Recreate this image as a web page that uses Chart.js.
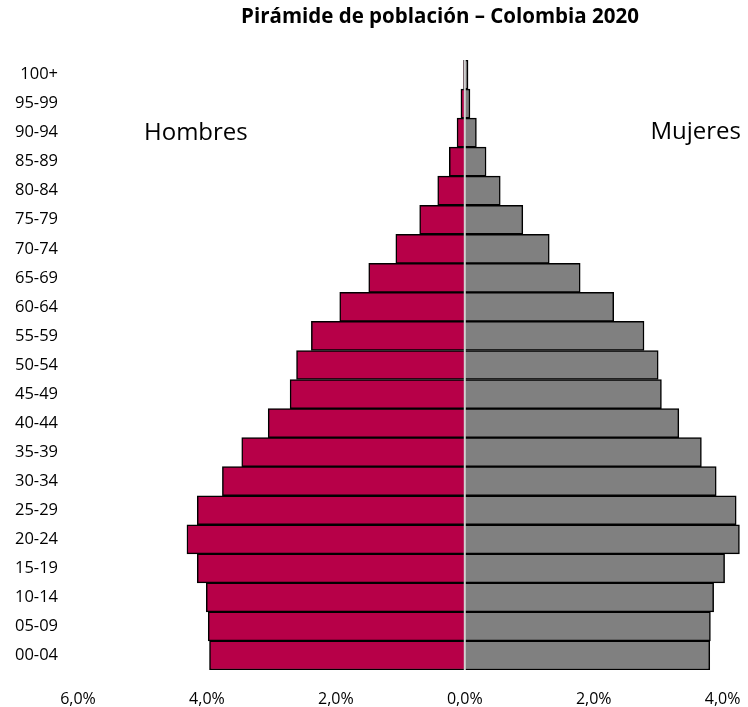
<!DOCTYPE html>
<html>
<head>
<meta charset="utf-8">
<script src="https://cdn.jsdelivr.net/npm/chart.js@4"></script>
<style>
  html, body { margin: 0; padding: 0; background: #fff; }
  #wrap { width: 748px; height: 707px; }
</style>
</head>
<body>
<div id="wrap"><canvas id="pyramid"></canvas></div>
<script>
// age groups, top to bottom
var grupos = ["100+", "95-99", "90-94", "85-89", "80-84", "75-79", "70-74", "65-69",
  "60-64", "55-59", "50-54", "45-49", "40-44", "35-39", "30-34", "25-29",
  "20-24", "15-19", "10-14", "05-09", "00-04"];

// % of total population
var hombres = [0.02, 0.06, 0.12, 0.24, 0.42, 0.70, 1.07, 1.49, 1.94, 2.38, 2.61,
  2.71, 3.05, 3.46, 3.76, 4.15, 4.31, 4.15, 4.01, 3.98, 3.96];
var mujeres = [0.05, 0.08, 0.18, 0.33, 0.55, 0.90, 1.31, 1.79, 2.31, 2.78, 3.00,
  3.05, 3.32, 3.67, 3.90, 4.21, 4.26, 4.03, 3.86, 3.81, 3.80];

var xTicks = [-6, -4, -2, 0, 2, 4];

var font = "'Open Sans', 'Noto Sans', sans-serif";

// title, side labels and the zero line
var extras = {
  id: "extras",
  afterDatasetsDraw: function (chart) {
    var ctx = chart.ctx;
    var x0 = chart.scales.x.getPixelForValue(0);
    var area = chart.chartArea;
    ctx.save();
    ctx.strokeStyle = "#d0d0d0";
    ctx.lineWidth = 2;
    ctx.beginPath();
    ctx.moveTo(x0, area.top);
    ctx.lineTo(x0, area.bottom);
    ctx.stroke();

    ctx.fillStyle = "#000";
    ctx.textBaseline = "middle";
    ctx.textAlign = "center";
    ctx.font = "bold 20.5px " + font;
    ctx.fillText("Pirámide de población – Colombia 2020", 440, 17);

    ctx.font = "24px " + font;
    ctx.textAlign = "left";
    ctx.fillText("Hombres", 144, 133);
    ctx.textAlign = "right";
    ctx.fillText("Mujeres", 741, 132);
    ctx.restore();
  }
};

var config = {
  type: "bar",
  data: {
    labels: grupos,
    datasets: [
      {
        label: "Hombres",
        data: hombres.map(function (v) { return -v; }),
        backgroundColor: "rgb(183,0,72)",
        borderColor: "#000",
        borderWidth: 1.5
      },
      {
        label: "Mujeres",
        data: mujeres,
        backgroundColor: "rgb(128,128,128)",
        borderColor: "#000",
        borderWidth: 1.5
      }
    ]
  },
  options: {
    indexAxis: "y",
    responsive: true,
    maintainAspectRatio: false,
    animation: false,
    datasets: { bar: { barPercentage: 1, categoryPercentage: 1 } },
    layout: { padding: { top: 60, right: 6, bottom: 0, left: 0 } },
    plugins: {
      legend: { display: false },
      title: { display: false },
      tooltip: { enabled: false }
    },
    scales: {
      x: {
        stacked: true,
        min: -6,
        max: 4.3,
        grid: { display: false, tickLength: 20 },
        border: { display: false },
        afterBuildTicks: function (scale) {
          scale.ticks = xTicks.map(function (v) { return { value: v }; });
        },
        afterFit: function (scale) { scale.height = 37; },
        ticks: {
          color: "#000",
          font: { family: font, size: 16 },
          padding: 0,
          maxRotation: 0,
          callback: function (v) {
            return Math.abs(v).toFixed(1).replace(".", ",") + "%";
          }
        }
      },
      y: {
        stacked: true,
        grid: { display: false },
        border: { display: false },
        afterFit: function (scale) { scale.width = 78; },
        ticks: {
          color: "#000",
          font: { family: font, size: 16.5 },
          padding: 12
        }
      }
    }
  },
  plugins: [extras]
};

var myChart = new Chart(document.getElementById("pyramid"), config);
</script>
</body>
</html>
